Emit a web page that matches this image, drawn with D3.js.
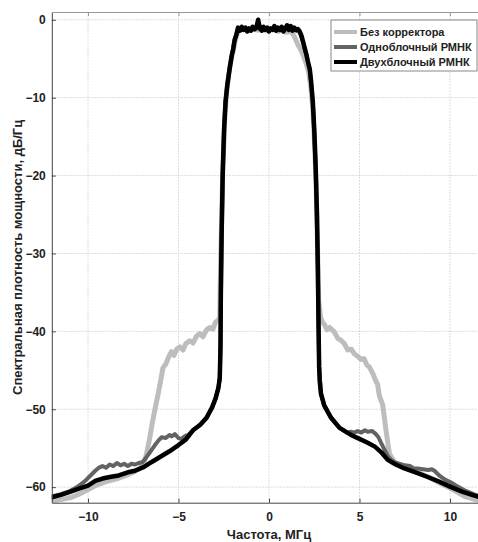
<!DOCTYPE html>
<html>
<head>
<meta charset="utf-8">
<script src="https://cdn.jsdelivr.net/npm/d3@7"></script>
<style>
  body { margin: 0; background: #fff; }
  text { font-family: "Liberation Sans", Arial, sans-serif; font-weight: bold; }
</style>
</head>
<body>
<div id="chart"></div>
<script>
// Data: [frequency MHz, PSD dB/Hz]
const seriesNames = ["Без корректора", "Одноблочный РМНК", "Двухблочный РМНК"];
const xTicks = [-10, -5, 0, 5, 10];
const yTicks = [0, -10, -20, -30, -40, -50, -60];

const noCorrector = [
  [-12,-61.8],[-11.5,-61.6],[-10.9,-61.3],[-10.4,-60.8],[-10,-60.3],[-9.5,-59.7],[-9,-59.3],[-8.5,-59.0],
  [-8,-58.6],[-7.5,-58.1],[-7.1,-57.5],[-6.9,-56.9],[-6.76,-55.7],[-6.6,-53.8],[-6.45,-51.8],[-6.3,-50.0],
  [-6.13,-48.1],[-6.0,-46.5],[-5.86,-44.7],[-5.7,-44.2],[-5.55,-43.3],[-5.39,-42.6],[-5.25,-43.1],[-5.1,-42.3],
  [-4.93,-42.0],[-4.75,-42.4],[-4.6,-41.6],[-4.38,-41.2],[-4.2,-41.5],[-4.0,-40.6],[-3.83,-40.3],[-3.65,-40.7],
  [-3.45,-39.8],[-3.28,-39.5],[-3.1,-39.7],[-2.95,-38.8],[-2.82,-38.6],[-2.72,-38.2],[-2.68,-32],[-2.62,-26],
  [-2.55,-19],[-2.45,-13],[-2.35,-9.5],[-2.2,-6.6],[-2.07,-4.8],[-1.97,-3.9],[-1.88,-2.8],[-1.78,-2.0],
  [-1.68,-1.3],[-1.5,-1.2],[-1.3,-1.3],[-1.1,-1.4],[-0.9,-1.2],[-0.7,-1.3],[-0.5,-1.3],[-0.3,-1.2],
  [-0.1,-1.4],[0.1,-1.3],[0.3,-1.2],[0.5,-1.5],[0.7,-1.3],[0.9,-1.6],[1.1,-1.5],[1.3,-1.7],[1.45,-2.4],
  [1.6,-3.2],[1.75,-3.8],[1.9,-4.6],[2.05,-5.6],[2.2,-6.8],[2.32,-8.8],[2.42,-11.5],[2.52,-16],[2.6,-21],
  [2.68,-29],[2.74,-36],[2.85,-38.2],[2.97,-38.9],[3.06,-39.1],[3.2,-39.8],[3.35,-39.5],[3.61,-40.1],[3.8,-40.9],
  [4.0,-41.2],[4.17,-41.6],[4.35,-42.4],[4.55,-42.3],[4.72,-42.9],[4.9,-43.2],[5.08,-43.6],[5.25,-43.5],
  [5.4,-44.3],[5.55,-44.6],[5.75,-45.5],[5.91,-46.4],[6.0,-46.8],[6.1,-48.3],[6.28,-49.4],[6.47,-52.8],
  [6.65,-55.7],[6.93,-56.8],[7.3,-57.3],[7.8,-57.8],[8.3,-58.2],[8.8,-58.7],[9.3,-59.3],[9.8,-59.9],
  [10.3,-60.5],[10.8,-61.2],[11.4,-61.6],[12,-61.9]
];

const oneBlock = [
  [-12,-61.2],[-11.5,-60.9],[-11,-60.5],[-10.6,-60.0],[-10.2,-59.3],[-9.9,-58.6],[-9.6,-57.9],[-9.4,-57.5],
  [-9.2,-57.3],[-9.0,-57.5],[-8.8,-57.1],[-8.6,-57.3],[-8.4,-56.9],[-8.2,-57.2],[-8.0,-57.0],[-7.8,-57.3],
  [-7.6,-57.0],[-7.4,-57.1],[-7.2,-56.9],[-7.0,-56.8],[-6.85,-56.4],[-6.6,-55.6],[-6.3,-54.6],[-6.1,-54.0],
  [-5.93,-53.6],[-5.7,-53.7],[-5.5,-53.3],[-5.38,-53.5],[-5.2,-53.2],[-5.0,-53.7],[-4.85,-53.8],[-4.6,-53.4],
  [-4.45,-53.3],[-4.2,-52.7],[-3.8,-52.0],[-3.45,-51.1],[-3.15,-49.8],[-2.95,-48.6],[-2.8,-47.3],[-2.72,-46],
  [-2.68,-42],[-2.62,-28],[-2.56,-20],[-2.48,-14],[-2.4,-10.5],[-2.3,-8.3],[-2.17,-6.2],[-2.05,-4.5],
  [-1.9,-2.6],[-1.71,-1.1],[-1.4,-1.2],[-1.0,-1.3],[-0.6,-1.1],[-0.2,-1.3],[0.2,-1.2],[0.6,-1.3],[1.0,-1.1],
  [1.4,-1.3],[1.7,-1.6],[1.88,-2.9],[2.07,-4.6],[2.25,-6.4],[2.42,-10.6],[2.58,-19],[2.7,-32],[2.77,-44.5],
  [2.87,-48.0],[3.05,-49.5],[3.43,-51.1],[3.9,-52.4],[4.3,-53.0],[4.53,-52.9],[4.72,-53.0],[4.9,-52.8],
  [5.1,-53.0],[5.3,-52.7],[5.45,-52.9],[5.7,-52.8],[5.91,-53.2],[6.05,-53.6],[6.19,-54.3],[6.38,-55.2],
  [6.56,-56.0],[6.75,-56.5],[6.93,-56.8],[7.2,-57.0],[7.5,-57.2],[7.8,-57.3],[8.0,-57.6],[8.2,-57.6],
  [8.5,-57.7],[8.8,-57.8],[9.0,-57.7],[9.14,-57.9],[9.4,-58.5],[9.7,-59.0],[10.06,-59.4],[10.4,-59.9],
  [10.8,-60.4],[11.3,-60.9],[12,-61.4]
];

const twoBlock = [
  [-12,-61.3],[-11.5,-61.0],[-11,-60.6],[-10.5,-60.2],[-10,-59.8],[-9.6,-59.2],[-9.2,-58.9],[-8.8,-58.7],
  [-8.3,-58.5],[-7.8,-58.1],[-7.4,-57.9],[-6.9,-57.4],[-6.5,-56.8],[-6.0,-56.1],[-5.5,-55.4],[-5.0,-54.6],
  [-4.6,-53.9],[-4.2,-52.7],[-3.8,-52.0],[-3.45,-51.1],[-3.15,-49.8],[-2.95,-48.6],[-2.8,-47.3],[-2.72,-46],
  [-2.68,-42],[-2.66,-35],[-2.62,-28],[-2.56,-20],[-2.48,-14],[-2.4,-10.5],[-2.3,-8.3],[-2.17,-6.2],
  [-2.05,-4.5],[-1.98,-3.8],[-1.9,-2.6],[-1.8,-1.9],[-1.71,-1.0],[-1.6,-1.4],[-1.5,-0.9],[-1.4,-1.3],
  [-1.3,-1.0],[-1.2,-1.5],[-1.1,-1.1],[-1.0,-1.4],[-0.9,-0.9],[-0.8,-1.2],[-0.7,-1.0],[-0.6,0.0],
  [-0.5,-1.1],[-0.4,-1.4],[-0.3,-0.9],[-0.2,-1.3],[-0.1,-1.0],[0.0,-1.5],[0.1,-1.1],[0.2,-1.3],[0.3,-0.8],
  [0.4,-1.4],[0.5,-1.0],[0.6,-1.3],[0.7,-0.9],[0.8,-1.5],[0.9,-1.1],[1.0,-0.7],[1.1,-1.3],[1.2,-0.8],
  [1.3,-1.4],[1.4,-1.0],[1.5,-1.3],[1.6,-1.2],[1.7,-1.5],[1.8,-2.1],[1.88,-2.8],[1.97,-3.6],[2.07,-4.5],
  [2.17,-5.6],[2.25,-6.3],[2.33,-8],[2.42,-10.5],[2.5,-14],[2.58,-19],[2.65,-25],[2.7,-32],[2.74,-40],
  [2.77,-44.5],[2.8,-46.3],[2.87,-48.0],[3.05,-49.5],[3.43,-51.1],[3.9,-52.4],[4.53,-53.3],[5.0,-53.8],
  [5.45,-54.3],[5.85,-54.8],[6.19,-55.5],[6.56,-56.5],[7.0,-57.1],[7.48,-57.6],[8.1,-58.1],[8.77,-58.7],
  [9.4,-59.3],[10.06,-60.0],[10.7,-60.6],[11.35,-61.1],[12,-61.5]
];

const W = 478, H = 542;
const plotLeft = 51.8, plotTop = 12, plotBottom = 502.7;

const svg = d3.select("#chart").append("svg")
    .attr("width", W)
    .attr("height", H);

const x = d3.scaleLinear().domain([-12, 12]).range([plotLeft, plotLeft + 434.4]);
const y = d3.scaleLinear().domain([-62, 1]).range([plotBottom, plotTop]);

svg.append("clipPath").attr("id", "plot")
  .append("rect")
    .attr("x", plotLeft).attr("y", plotTop)
    .attr("width", x(12) - plotLeft).attr("height", plotBottom - plotTop);

// grid
svg.append("g")
  .selectAll("line")
  .data(xTicks)
  .join("line")
    .attr("x1", d => x(d)).attr("x2", d => x(d))
    .attr("y1", plotTop).attr("y2", plotBottom)
    .attr("stroke", "#dcdcdc")
    .attr("stroke-dasharray", "2,1");

svg.append("g")
  .selectAll("line")
  .data(yTicks)
  .join("line")
    .attr("x1", plotLeft).attr("x2", x(12))
    .attr("y1", d => y(d)).attr("y2", d => y(d))
    .attr("stroke", "#dcdcdc")
    .attr("stroke-dasharray", "2,1");

// curves
const line = d3.line()
    .x(d => x(d[0]))
    .y(d => y(d[1]));

const series = [
  {name: seriesNames[0], data: noCorrector, color: "#bdbdbd", width: 5},
  {name: seriesNames[1], data: oneBlock, color: "#636363", width: 4},
  {name: seriesNames[2], data: twoBlock, color: "#000000", width: 4.5}
];

svg.append("g")
    .attr("clip-path", "url(#plot)")
  .selectAll("path")
  .data(series)
  .join("path")
    .attr("fill", "none")
    .attr("stroke", d => d.color)
    .attr("stroke-width", d => d.width)
    .attr("stroke-linejoin", "round")
    .attr("stroke-linecap", "round")
    .attr("d", d => line(d.data));

// axes (box with inward ticks)
const xAxis = svg.append("g")
    .attr("transform", `translate(0,${plotBottom})`)
    .call(d3.axisBottom(x).tickValues(xTicks).tickSizeInner(-4).tickSizeOuter(0).tickPadding(10));
const yAxis = svg.append("g")
    .attr("transform", `translate(${plotLeft},0)`)
    .call(d3.axisLeft(y).tickValues(yTicks).tickSizeInner(-4).tickSizeOuter(0).tickPadding(6));
const topAxis = svg.append("g")
    .attr("transform", `translate(0,${plotTop})`)
    .call(d3.axisTop(x).tickValues(xTicks).tickSizeInner(-4).tickSizeOuter(0).tickFormat(""));

[xAxis, yAxis].forEach(a => {
  a.select(".domain").attr("stroke", "#444");
  a.selectAll(".tick line").attr("stroke", "#444");
  a.selectAll(".tick text")
      .attr("font-family", "Liberation Sans, Arial, sans-serif")
      .attr("font-weight", "bold")
      .attr("font-size", 12)
      .attr("fill", "#222");
});
topAxis.select(".domain").attr("stroke", "#999");
topAxis.selectAll(".tick line").attr("stroke", "#999");

// axis titles
svg.append("text")
    .attr("x", 269)
    .attr("y", 539)
    .attr("text-anchor", "middle")
    .attr("font-size", 13)
    .attr("fill", "#222")
    .text("Частота, МГц");

svg.append("text")
    .attr("transform", `translate(22,${(plotTop + plotBottom) / 2}) rotate(-90)`)
    .attr("text-anchor", "middle")
    .attr("font-size", 13)
    .attr("fill", "#222")
    .text("Спектральная плотность мощности, дБ/Гц");

// legend
const legend = svg.append("g").attr("transform", "translate(331,20)");
legend.append("rect")
    .attr("width", 146).attr("height", 51)
    .attr("fill", "#fff")
    .attr("stroke", "#888");
legend.selectAll("line.item")
  .data(series)
  .join("line")
    .attr("class", "item")
    .attr("x1", 3).attr("x2", 26)
    .attr("y1", (d, i) => 12 + i * 15).attr("y2", (d, i) => 12 + i * 15)
    .attr("stroke", d => d.color)
    .attr("stroke-width", 4);
legend.selectAll("text")
  .data(series)
  .join("text")
    .attr("x", 29)
    .attr("y", (d, i) => 12 + i * 15)
    .attr("dy", "0.35em")
    .attr("font-size", 11)
    .attr("fill", "#222")
    .text(d => d.name);
</script>
</body>
</html>
